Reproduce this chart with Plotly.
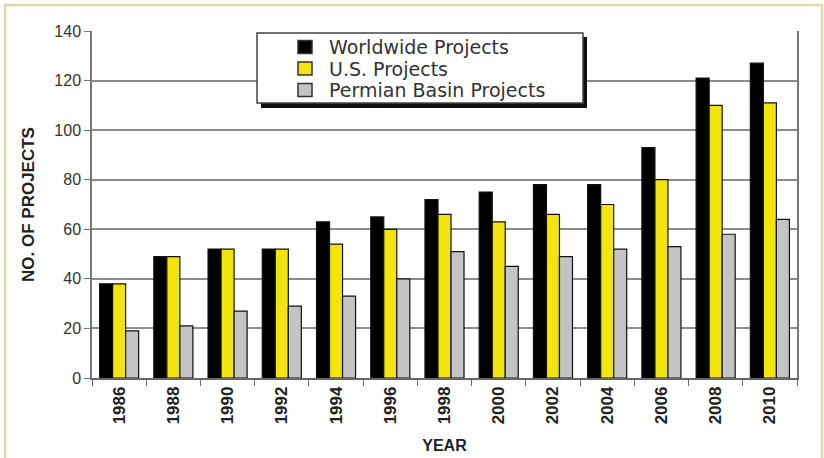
import plotly.graph_objects as go

years = ["1986", "1988", "1990", "1992", "1994", "1996", "1998",
         "2000", "2002", "2004", "2006", "2008", "2010"]
worldwide = [38, 49, 52, 52, 63, 65, 72, 75, 78, 78, 93, 121, 127]
us = [38, 49, 52, 52, 54, 60, 66, 63, 66, 70, 80, 110, 111]
permian = [19, 21, 27, 29, 33, 40, 51, 45, 49, 52, 53, 58, 64]

series_names = ["Worldwide Projects", "U.S. Projects", "Permian Basin Projects"]
series_values = [worldwide, us, permian]
series_colors = ["#000000", "#f2e40c", "#c4c4c4"]

fig = go.Figure()
for name, vals, col in zip(series_names, series_values, series_colors):
    fig.add_trace(go.Bar(
        x=years, y=vals, name=name,
        marker=dict(color=col, line=dict(color="#111111", width=1.2)),
    ))

W, H = 824, 458
L, R, T, B = 92, 27, 31, 80
pw, ph = W - L - R, H - T - B

def px(x):
    return (x - L) / pw

def py(y):
    return (H - B - y) / ph

shapes = [
    # outer frame
    dict(type="rect", xref="paper", yref="paper", layer="below",
         x0=px(5), x1=px(822), y0=py(470), y1=py(5),
         fillcolor="rgba(0,0,0,0)", line=dict(color="#e6d6a8", width=2.5)),
    # legend shadow
    dict(type="rect", xref="paper", yref="paper", layer="above",
         x0=px(261), x1=px(587), y0=py(108), y1=py(37),
         fillcolor="#111", line=dict(width=0)),
    # legend box
    dict(type="rect", xref="paper", yref="paper", layer="above",
         x0=px(257), x1=px(583), y0=py(103), y1=py(33),
         fillcolor="white", line=dict(color="#444", width=1.5)),
]
annotations = []
legend_y = [47, 68.5, 90]
for name, col, yc in zip(series_names, series_colors, legend_y):
    shapes.append(dict(type="rect", xref="paper", yref="paper", layer="above",
                       x0=px(298), x1=px(312), y0=py(yc + 6.5), y1=py(yc - 6.5),
                       fillcolor=col, line=dict(color="#333", width=1.5)))
    annotations.append(dict(xref="paper", yref="paper", x=px(327), y=py(yc),
                            xanchor="left", yanchor="middle", showarrow=False,
                            text=name,
                            font=dict(size=19, color="#333",
                                      family="DejaVu Sans, Liberation Sans, sans-serif")))

fig.update_layout(
    width=W, height=H,
    margin=dict(l=L, r=R, t=T, b=B),
    paper_bgcolor="white", plot_bgcolor="white",
    barmode="group", bargap=0.28, bargroupgap=0,
    font=dict(family="Liberation Sans, Arial, sans-serif", color="#222"),
    showlegend=False,
    xaxis=dict(
        type="category", tickangle=-90, automargin=False,
        tickfont=dict(size=17, color="#222", weight="bold"),
        showline=True, linecolor="#666", linewidth=1.5,
        ticks="outside", tickson="boundaries", ticklen=6, tickcolor="#666",
        showgrid=False,
        title=dict(text="<b>YEAR</b>", font=dict(size=16, color="#222"), standoff=16),
    ),
    yaxis=dict(
        range=[0, 140], dtick=20, automargin=False,
        tickfont=dict(size=16, color="#333"),
        showline=True, linecolor="#777", linewidth=1.5, mirror=True,
        ticks="outside", ticklen=6, tickcolor="#777",
        showgrid=True, gridcolor="#8c8c8c", gridwidth=1.5,
        zeroline=False,
        title=dict(text="<b>NO. OF PROJECTS</b>", font=dict(size=17, color="#222"), standoff=15),
    ),
    shapes=shapes,
    annotations=annotations,
)

fig.write_html("out.html")
